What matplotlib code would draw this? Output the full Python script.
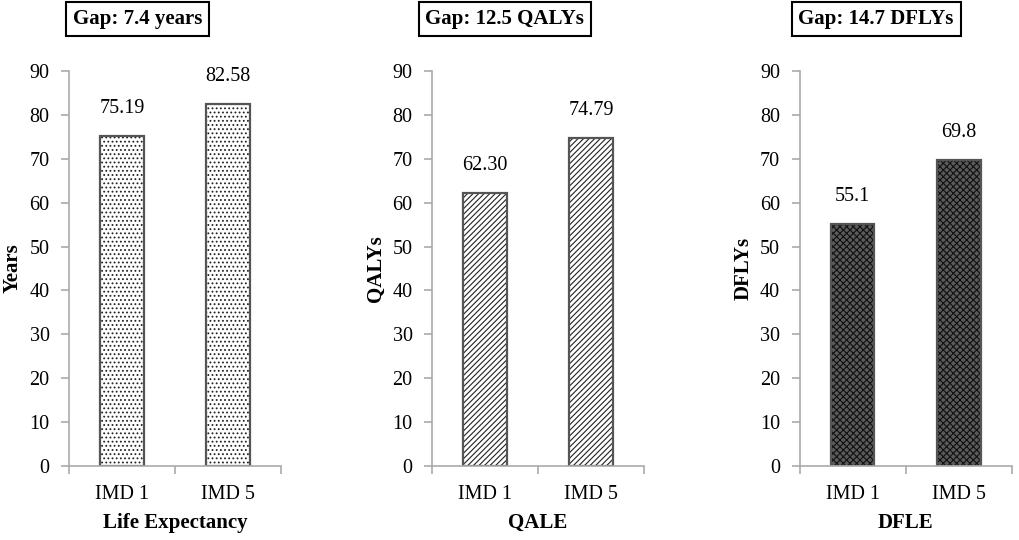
import matplotlib.pyplot as plt
import numpy as np

plt.rcParams['font.family'] = ['Liberation Serif', 'DejaVu Serif']
plt.rcParams['hatch.linewidth'] = 0.8

# Bar values per panel
groups = ['IMD 1', 'IMD 5']
life_exp = [75.19, 82.58]
qale = [62.30, 74.79]
dfle = [55.1, 69.8]
value_labels = [['75.19', '82.58'], ['62.30', '74.79'], ['55.1', '69.8']]

panel_values = [life_exp, qale, dfle]
y_labels = ['Years', 'QALYs', 'DFLYs']
x_labels = ['Life Expectancy', 'QALE', 'DFLE']
gap_titles = ['Gap: 7.4 years', 'Gap: 12.5 QALYs', 'Gap: 14.7 DFLYs']
hatches = ['....', '//////', 'xxxxx']
faces = ['white', 'white', '#5a5a5a']
hatch_cols = ['#222222', '#222222', '#111111']

fig = plt.figure(figsize=(10.2, 5.4), dpi=100)
lefts = [0.0676, 0.4235, 0.784]
title_x = [0.135, 0.495, 0.859]

for i in range(3):
    ax = fig.add_axes([lefts[i], 0.137, 0.208, 0.7315])
    x = np.arange(len(groups))
    # fill + hatch, then a grey outline on top
    ax.bar(x, panel_values[i], width=0.41, facecolor=faces[i], edgecolor=hatch_cols[i],
           hatch=hatches[i], linewidth=0)
    ax.bar(x, panel_values[i], width=0.41, facecolor='none', edgecolor='#555555',
           linewidth=1.6)
    for xi, v, lab in zip(x, panel_values[i], value_labels[i]):
        ax.annotate(lab, (xi, v), xytext=(0, 13), textcoords='offset points',
                    ha='center', va='bottom', fontsize=14.5)
    ax.set_xlim(-0.5, 1.5)
    ax.set_ylim(0, 90)
    ax.set_yticks(np.arange(0, 91, 10))
    ax.set_xticks(x)
    ax.set_xticklabels(groups, fontsize=14.5)
    ax.set_xticks([-0.5, 0.5, 1.5], minor=True)
    ax.tick_params(axis='x', which='major', length=0, pad=14)
    ax.tick_params(axis='x', which='minor', length=6, color='#aaaaaa', width=1.2)
    ax.tick_params(axis='y', length=6, color='#aaaaaa', width=1.2, labelsize=14.5, pad=8)
    for s in ['top', 'right']:
        ax.spines[s].set_visible(False)
    for s in ['left', 'bottom']:
        ax.spines[s].set_color('#aaaaaa')
        ax.spines[s].set_linewidth(1.2)
    ax.set_ylabel(y_labels[i], fontsize=15, fontweight='bold', labelpad=5)
    ax.set_xlabel(x_labels[i], fontsize=15, fontweight='bold', labelpad=6)
    fig.text(title_x[i], 0.965, gap_titles[i], ha='center', va='center',
             fontsize=15, fontweight='bold',
             bbox=dict(boxstyle='square,pad=0.33', facecolor='white',
                       edgecolor='black', linewidth=1.5))

fig.savefig('out.png', dpi=100)
